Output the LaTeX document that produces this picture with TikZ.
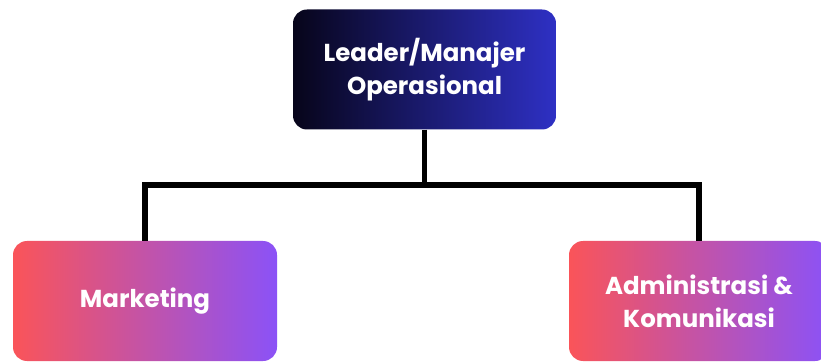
\documentclass[tikz,border=0pt]{standalone}
\usepackage{fontspec}
\setmainfont{Poppins}
\definecolor{navy}{HTML}{07051A}
\definecolor{royal}{HTML}{2E30C4}
\definecolor{coral}{HTML}{FA5459}
\definecolor{violet}{HTML}{8B52F7}
\begin{document}
\begin{tikzpicture}[x=1pt,y=-1pt,
  box/.style={rectangle, rounded corners=14pt, minimum height=120pt, align=center, text=white, font=\bfseries\fontsize{24.5}{33}\selectfont},
  link/.style={line width=5.5pt, black}]
\useasboundingbox (0,0) rectangle (821,363);
\node[box, minimum width=263pt, left color=navy, right color=royal] (lm) at (424.5,69.5) {Leader/Manajer\\Operasional};
\node[box, minimum width=264pt, left color=coral, right color=violet] (mk) at (145,301) {Marketing};
% right box runs past the page edge
\node[box, minimum width=260pt, left color=coral, right color=violet] (ak) at (699,301) {Administrasi \&\\Komunikasi};
\coordinate (hub) at (424.5,185);
\draw[link] (lm.south) -- (hub);
\draw[link] (mk.north) |- (hub) -| (ak.north);
\end{tikzpicture}
\end{document}
